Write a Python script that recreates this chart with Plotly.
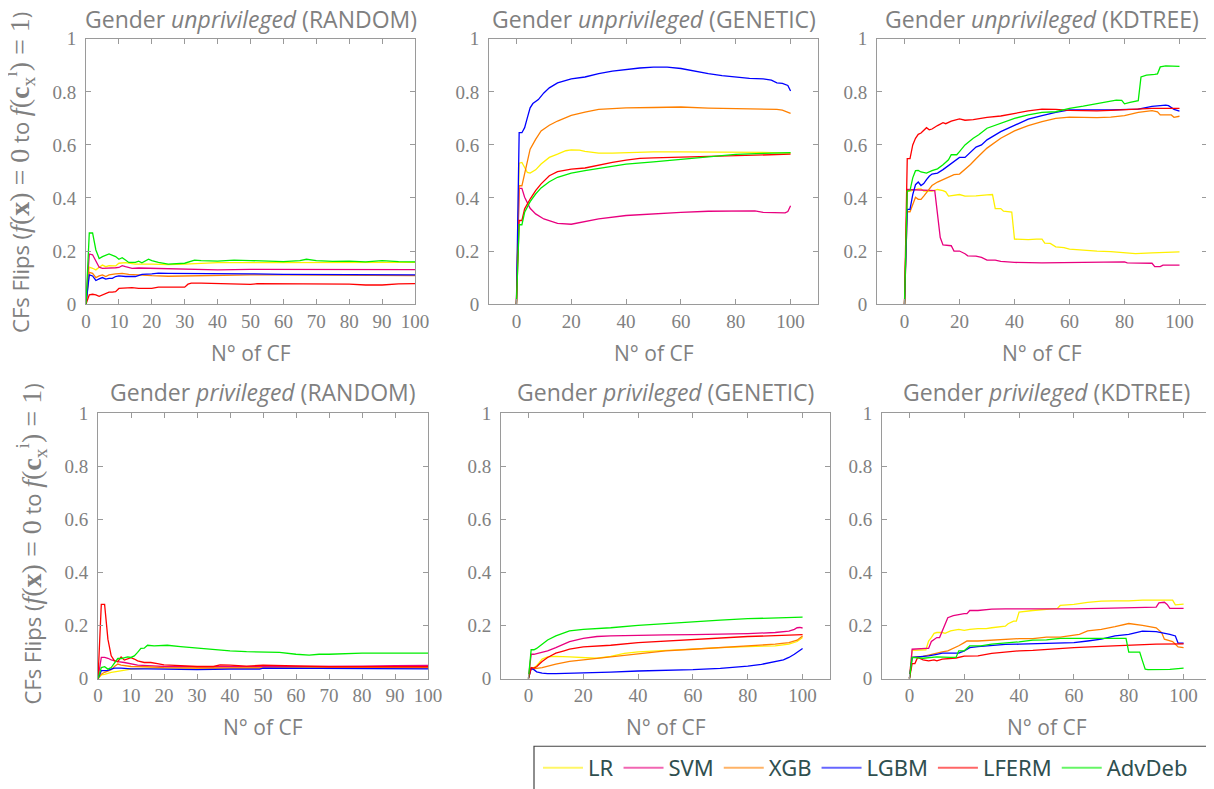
import plotly.graph_objects as go

# ---------------- data ----------------
MODELS = ["LR", "SVM", "XGB", "LGBM", "LFERM", "AdvDeb"]
COLORS = ["#fff000", "#e8007f", "#ff8000", "#0000ff", "#ff0000", "#00ee00"]

# Random - unprivileged
RU_LR_X = [0,1,2,3,4,5,6,7,9,10,12,15,20,25,30,35,40,50,60,70,80,90,100]
RU_LR_Y = [0,0.139,0.135,0.129,0.139,0.147,0.141,0.145,0.144,0.154,0.156,0.151,0.151,0.149,0.151,0.154,0.156,0.156,0.156,0.156,0.155,0.156,0.157]
RU_SVM_X = [0,1,2,3,4,5,7,9,10,11,12,14,16,20,25,30,35,40,50,60,70,80,90,100]
RU_SVM_Y = [0,0.189,0.186,0.16,0.139,0.135,0.135,0.137,0.138,0.145,0.141,0.135,0.136,0.135,0.131,0.131,0.131,0.129,0.131,0.131,0.131,0.131,0.131,0.13]
RU_XGB_X = [0,1,2,3,4,5,6,7,9,11,13,15,20,25,30,40,50,60,70,80,90,100]
RU_XGB_Y = [0,0.12,0.116,0.1,0.106,0.11,0.104,0.11,0.114,0.116,0.112,0.11,0.107,0.105,0.106,0.11,0.11,0.11,0.109,0.107,0.107,0.107]
RU_LGBM_X = [0,1,2,3,4,5,6,7,8,9,10,12,15,17,20,22,25,30,35,40,50,60,70,80,90,100]
RU_LGBM_Y = [0,0.11,0.106,0.089,0.095,0.1,0.094,0.097,0.097,0.104,0.106,0.104,0.104,0.112,0.114,0.117,0.116,0.116,0.116,0.114,0.114,0.112,0.112,0.111,0.111,0.11]
RU_LFERM_X = [0,1,2,3,4,5,6,7,8,9,10,12,14,16,18,20,22,25,28,30,31,32,35,40,45,48,50,52,55,60,70,80,85,90,95,100]
RU_LFERM_Y = [0,0.035,0.037,0.035,0.029,0.035,0.039,0.045,0.045,0.047,0.059,0.06,0.062,0.059,0.059,0.059,0.064,0.064,0.062,0.064,0.075,0.079,0.079,0.077,0.077,0.075,0.074,0.077,0.077,0.077,0.076,0.075,0.072,0.072,0.076,0.077]
RU_ADV_X = [0,1,2,3,4,5,7,8,9,10,11,12,13,15,16,17,19,20,22,25,28,30,33,35,40,45,50,55,60,65,67,70,75,80,85,90,95,100]
RU_ADV_Y = [0,0.268,0.268,0.204,0.172,0.179,0.189,0.184,0.179,0.169,0.175,0.166,0.157,0.157,0.162,0.156,0.169,0.164,0.157,0.151,0.153,0.154,0.166,0.164,0.162,0.166,0.164,0.162,0.16,0.164,0.169,0.164,0.161,0.162,0.159,0.164,0.16,0.159]

# Genetic - unprivileged
GU_LR_X = [0,1,2,3,4,5,7,9,12,15,18,20,23,25,30,35,40,50,60,70,80,90,100]
GU_LR_Y = [0,0.531,0.534,0.515,0.496,0.494,0.506,0.528,0.553,0.565,0.578,0.581,0.58,0.576,0.569,0.569,0.571,0.574,0.574,0.574,0.574,0.572,0.569]
GU_SVM_X = [0,1,2,3,5,7,10,13,15,20,25,30,40,50,60,70,80,87,90,95,98,99,100]
GU_SVM_Y = [0,0.436,0.436,0.403,0.361,0.34,0.321,0.309,0.304,0.301,0.311,0.321,0.334,0.341,0.346,0.35,0.351,0.351,0.346,0.346,0.344,0.349,0.371]
GU_XGB_X = [0,1,2,3,4,5,7,9,12,15,20,25,30,40,50,57,60,70,80,90,95,97,100]
GU_XGB_Y = [0,0.446,0.446,0.496,0.546,0.584,0.621,0.653,0.674,0.69,0.711,0.724,0.734,0.74,0.741,0.744,0.743,0.739,0.738,0.736,0.734,0.731,0.719]
GU_LGBM_X = [0,1,2,3,4,5,6,8,10,12,15,20,25,30,35,40,45,50,55,60,65,70,75,80,85,90,93,95,97,99,100]
GU_LGBM_Y = [0,0.646,0.646,0.665,0.703,0.74,0.756,0.771,0.796,0.815,0.834,0.849,0.856,0.869,0.878,0.884,0.89,0.893,0.893,0.888,0.878,0.869,0.861,0.856,0.851,0.849,0.844,0.834,0.832,0.824,0.803]
GU_LFERM_X = [0,1,2,3,5,7,9,12,15,20,25,30,35,40,45,50,60,70,80,90,100]
GU_LFERM_Y = [0,0.315,0.315,0.359,0.396,0.428,0.453,0.484,0.499,0.509,0.513,0.524,0.534,0.543,0.549,0.551,0.554,0.555,0.559,0.561,0.565]
GU_ADV_X = [0,1,2,3,5,7,9,12,15,20,25,30,40,50,60,70,80,90,100]
GU_ADV_Y = [0,0.299,0.299,0.346,0.386,0.415,0.438,0.461,0.478,0.494,0.503,0.511,0.528,0.536,0.546,0.556,0.564,0.568,0.571]

# KDTree - unprivileged
KU_LR_X = [0,1,2,4,5,6,7,10,12,14,15,16,18,20,22,26,30,32,33,35,36,39,40,45,48,50,51,53,55,58,60,65,70,75,84,90,95,100]
KU_LR_Y = [0,0.426,0.426,0.432,0.434,0.434,0.426,0.426,0.432,0.428,0.423,0.407,0.41,0.413,0.407,0.408,0.412,0.413,0.36,0.36,0.35,0.347,0.245,0.243,0.245,0.245,0.23,0.229,0.216,0.213,0.207,0.203,0.2,0.198,0.19,0.193,0.195,0.197]
KU_SVM_X = [0,1,11,12,13,14,17,18,20,22,23,26,28,30,33,35,40,50,60,70,80,81,90,91,93,94,100]
KU_SVM_Y = [0,0.432,0.428,0.338,0.251,0.223,0.22,0.2,0.2,0.19,0.182,0.181,0.176,0.166,0.166,0.161,0.157,0.155,0.157,0.159,0.159,0.155,0.154,0.141,0.141,0.147,0.147]
KU_XGB_X = [0,1,2,3,4,5,6,7,8,9,10,12,14,16,18,20,22,24,26,28,30,35,40,45,50,55,60,65,70,75,80,85,88,90,92,93,95,97,98,100]
KU_XGB_Y = [0,0.348,0.348,0.376,0.403,0.395,0.395,0.407,0.42,0.436,0.447,0.46,0.469,0.478,0.488,0.49,0.507,0.526,0.548,0.567,0.588,0.625,0.653,0.673,0.688,0.70,0.705,0.704,0.703,0.705,0.71,0.723,0.728,0.729,0.725,0.713,0.713,0.713,0.704,0.708]
KU_LGBM_X = [0,1,2,3,4,5,6,7,8,9,10,12,14,16,18,20,22,24,26,28,30,35,40,45,50,55,60,65,70,75,80,85,90,94,95,96,98,100]
KU_LGBM_Y = [0,0.357,0.357,0.413,0.45,0.46,0.447,0.454,0.469,0.482,0.49,0.494,0.507,0.523,0.538,0.553,0.553,0.573,0.592,0.60,0.619,0.65,0.675,0.697,0.71,0.723,0.732,0.733,0.732,0.732,0.733,0.735,0.745,0.749,0.75,0.748,0.734,0.727]
KU_LFERM_X = [0,1,2,3,4,5,6,7,8,9,10,12,14,15,17,20,22,25,30,35,40,45,50,55,60,65,70,75,80,85,90,95,100]
KU_LFERM_Y = [0,0.548,0.548,0.60,0.625,0.64,0.645,0.657,0.665,0.657,0.66,0.673,0.684,0.68,0.69,0.698,0.693,0.695,0.704,0.709,0.719,0.728,0.735,0.734,0.73,0.728,0.728,0.73,0.733,0.735,0.738,0.738,0.738]
KU_ADV_X = [0,1,2,3,4,5,6,8,10,12,14,16,17,19,20,22,25,27,30,35,40,45,50,55,60,65,70,75,77,79,80,82,85,86,88,91,92,93,95,100]
KU_ADV_Y = [0,0.426,0.428,0.476,0.503,0.504,0.498,0.494,0.503,0.51,0.525,0.544,0.563,0.563,0.575,0.60,0.625,0.638,0.663,0.682,0.70,0.713,0.723,0.725,0.738,0.746,0.755,0.763,0.769,0.768,0.755,0.76,0.767,0.856,0.863,0.866,0.868,0.894,0.898,0.896]

# Random - privileged
RP_LR_X = [0,1,2,3,4,5,7,9,10,15,20,30,50,100]
RP_LR_Y = [0,0.014,0.016,0.021,0.024,0.026,0.03,0.034,0.036,0.04,0.04,0.041,0.041,0.041]
RP_SVM_X = [0,1,2,3,4,5,6,8,10,12,15,20,30,40,50,60,70,80,90,100]
RP_SVM_Y = [0,0.08,0.08,0.077,0.071,0.067,0.064,0.061,0.056,0.051,0.049,0.046,0.045,0.045,0.046,0.046,0.046,0.047,0.049,0.05]
RP_XGB_X = [0,1,2,3,4,5,6,7,8,10,15,20,30,40,50,60,70,80,100]
RP_XGB_Y = [0,0.017,0.024,0.03,0.034,0.046,0.055,0.051,0.049,0.046,0.045,0.042,0.04,0.04,0.041,0.041,0.041,0.041,0.041]
RP_LGBM_X = [0,1,2,3,4,5,7,10,15,20,25,30,40,49,50,60,70,80,90,100]
RP_LGBM_Y = [0,0.03,0.03,0.031,0.036,0.04,0.04,0.037,0.037,0.036,0.034,0.034,0.036,0.036,0.04,0.039,0.039,0.039,0.037,0.037]
RP_LFERM_X = [0,1,2,3,4,5,6,7,8,9,10,11,12,14,16,18,20,25,30,35,37,40,45,50,55,60,70,80,90,100]
RP_LFERM_Y = [0,0.28,0.28,0.149,0.086,0.067,0.064,0.082,0.07,0.076,0.079,0.074,0.067,0.061,0.061,0.057,0.052,0.049,0.046,0.046,0.052,0.051,0.047,0.051,0.049,0.047,0.045,0.045,0.045,0.045]
RP_ADV_X = [0,1,2,3,4,5,6,7,8,9,10,11,12,13,14,15,17,20,21,25,30,35,40,45,50,55,60,64,67,70,80,90,100]
RP_ADV_Y = [0,0.042,0.045,0.036,0.042,0.061,0.076,0.076,0.08,0.082,0.08,0.086,0.099,0.114,0.115,0.126,0.124,0.124,0.126,0.121,0.115,0.111,0.105,0.102,0.101,0.099,0.092,0.089,0.092,0.092,0.096,0.095,0.096]

# Genetic - privileged
GP_LR_X = [0,1,2,3,4,5,7,10,15,20,25,30,35,40,45,50,60,70,80,90,95,98,100]
GP_LR_Y = [0,0.042,0.042,0.049,0.061,0.074,0.082,0.084,0.082,0.08,0.077,0.084,0.095,0.101,0.104,0.107,0.111,0.117,0.121,0.124,0.13,0.14,0.155]
GP_SVM_X = [0,1,2,3,5,7,10,13,15,20,25,30,40,50,60,70,80,90,95,97,98,99,100]
GP_SVM_Y = [0,0.092,0.092,0.095,0.099,0.105,0.117,0.13,0.14,0.152,0.159,0.161,0.164,0.165,0.166,0.167,0.17,0.174,0.179,0.186,0.192,0.193,0.191]
GP_XGB_X = [0,1,3,5,10,15,20,30,40,50,60,70,80,90,95,98,100]
GP_XGB_Y = [0,0.036,0.039,0.042,0.055,0.065,0.071,0.082,0.095,0.105,0.111,0.117,0.124,0.13,0.136,0.145,0.161]
GP_LGBM_X = [0,1,2,3,5,7,10,20,30,40,50,60,70,80,85,90,93,95,97,100]
GP_LGBM_Y = [0,0.039,0.034,0.026,0.021,0.019,0.019,0.021,0.025,0.029,0.031,0.034,0.039,0.047,0.054,0.064,0.071,0.08,0.092,0.114]
GP_LFERM_X = [0,1,2,3,4,5,7,10,13,15,20,30,40,50,60,70,80,90,100]
GP_LFERM_Y = [0,0.042,0.04,0.045,0.055,0.065,0.08,0.096,0.105,0.111,0.12,0.126,0.136,0.142,0.149,0.154,0.159,0.162,0.166]
GP_ADV_X = [0,1,2,3,5,7,10,13,15,20,30,40,50,60,70,80,90,100]
GP_ADV_Y = [0,0.109,0.109,0.114,0.13,0.146,0.161,0.174,0.18,0.186,0.192,0.201,0.208,0.215,0.221,0.226,0.228,0.232]

# KDTree - privileged
KP_LR_X = [0,1,6,7,8,9,10,12,13,15,17,18,20,22,25,28,30,33,35,36,38,39,40,45,50,54,55,60,65,70,75,80,85,90,94,96,97,100]
KP_LR_Y = [0,0.107,0.109,0.142,0.155,0.171,0.174,0.174,0.171,0.18,0.184,0.186,0.182,0.186,0.189,0.189,0.192,0.196,0.198,0.207,0.217,0.217,0.251,0.257,0.261,0.265,0.276,0.28,0.288,0.292,0.293,0.293,0.296,0.296,0.298,0.296,0.278,0.281]
KP_SVM_X = [0,1,6,7,8,10,11,12,13,14,16,18,20,21,22,25,28,30,35,40,45,50,60,70,80,90,91,93,94,95,100]
KP_SVM_Y = [0,0.111,0.114,0.114,0.14,0.155,0.155,0.18,0.211,0.23,0.238,0.242,0.245,0.245,0.257,0.257,0.26,0.262,0.263,0.263,0.261,0.261,0.263,0.265,0.267,0.27,0.286,0.288,0.28,0.265,0.265]
KP_XGB_X = [0,1,5,7,9,12,14,16,18,20,21,25,30,35,40,45,48,50,55,60,62,65,70,75,78,80,85,90,92,93,96,98,100]
KP_XGB_Y = [0,0.08,0.084,0.089,0.096,0.101,0.105,0.114,0.124,0.136,0.142,0.142,0.145,0.146,0.151,0.151,0.155,0.157,0.157,0.164,0.167,0.18,0.186,0.196,0.202,0.208,0.201,0.192,0.174,0.149,0.14,0.12,0.117]
KP_LGBM_X = [0,1,5,7,10,12,16,18,20,22,25,30,35,40,45,50,55,60,65,70,75,80,85,90,95,97,98,100]
KP_LGBM_Y = [0,0.08,0.084,0.086,0.092,0.096,0.096,0.096,0.105,0.117,0.121,0.126,0.129,0.13,0.132,0.134,0.134,0.136,0.142,0.149,0.161,0.167,0.179,0.177,0.167,0.161,0.134,0.134]
KP_LFERM_X = [0,1,2,3,5,7,9,10,12,15,17,20,25,30,35,40,45,50,60,70,80,90,100]
KP_LFERM_Y = [0,0.057,0.057,0.08,0.071,0.067,0.071,0.067,0.074,0.077,0.078,0.085,0.086,0.095,0.101,0.105,0.107,0.111,0.117,0.122,0.127,0.13,0.131]
KP_ADV_X = [0,1,5,10,15,17,18,20,22,26,30,35,40,45,50,55,60,65,70,75,78,79,80,84,85,86,87,90,95,100]
KP_ADV_Y = [0,0.08,0.077,0.082,0.08,0.08,0.105,0.105,0.124,0.124,0.13,0.134,0.139,0.145,0.146,0.152,0.152,0.152,0.152,0.154,0.154,0.152,0.1,0.1,0.067,0.036,0.034,0.034,0.035,0.04]

Y_TICKS = [0, 0.2, 0.4, 0.6, 0.8, 1]
Y_TICKTEXT = ["0", "0.2", "0.4", "0.6", "0.8", "1"]

SERIES = {
    "RU": [(RU_LR_X, RU_LR_Y), (RU_SVM_X, RU_SVM_Y), (RU_XGB_X, RU_XGB_Y), (RU_LGBM_X, RU_LGBM_Y), (RU_LFERM_X, RU_LFERM_Y), (RU_ADV_X, RU_ADV_Y)],
    "GU": [(GU_LR_X, GU_LR_Y), (GU_SVM_X, GU_SVM_Y), (GU_XGB_X, GU_XGB_Y), (GU_LGBM_X, GU_LGBM_Y), (GU_LFERM_X, GU_LFERM_Y), (GU_ADV_X, GU_ADV_Y)],
    "KU": [(KU_LR_X, KU_LR_Y), (KU_SVM_X, KU_SVM_Y), (KU_XGB_X, KU_XGB_Y), (KU_LGBM_X, KU_LGBM_Y), (KU_LFERM_X, KU_LFERM_Y), (KU_ADV_X, KU_ADV_Y)],
    "RP": [(RP_LR_X, RP_LR_Y), (RP_SVM_X, RP_SVM_Y), (RP_XGB_X, RP_XGB_Y), (RP_LGBM_X, RP_LGBM_Y), (RP_LFERM_X, RP_LFERM_Y), (RP_ADV_X, RP_ADV_Y)],
    "GP": [(GP_LR_X, GP_LR_Y), (GP_SVM_X, GP_SVM_Y), (GP_XGB_X, GP_XGB_Y), (GP_LGBM_X, GP_LGBM_Y), (GP_LFERM_X, GP_LFERM_Y), (GP_ADV_X, GP_ADV_Y)],
    "KP": [(KP_LR_X, KP_LR_Y), (KP_SVM_X, KP_SVM_Y), (KP_XGB_X, KP_XGB_Y), (KP_LGBM_X, KP_LGBM_Y), (KP_LFERM_X, KP_LFERM_Y), (KP_ADV_X, KP_ADV_Y)],
}

# ---------------- layout ----------------
# The page body has an 8px margin, so the figure is drawn 8px in from the
# window's top-left corner; positions below are window pixels.
OFF = 8
PAGE_W, PAGE_H = 1214, 789
W, H = PAGE_W - OFF, PAGE_H - OFF


def fx(px):
    return (px - OFF) / W


def fy(py):
    return 1 - (py - OFF) / H


GREY = "#808080"
FRAME = "#9a9a9a"
SANS = "Open Sans"
SERIF = "Liberation Serif, Times New Roman, serif"

PANELS = [
    dict(key="RU", title="Gender <i>unprivileged</i> (RANDOM)", px=(86, 415), py=(39, 306), rng=[0, 100], dt=10),
    dict(key="GU", title="Gender <i>unprivileged</i> (GENETIC)", px=(489, 818), py=(39, 306), rng=[-10, 110], dt=20),
    dict(key="KU", title="Gender <i>unprivileged</i> (KDTREE)", px=(877, 1207), py=(39, 306), rng=[-10, 110], dt=20),
    dict(key="RP", title="Gender <i>privileged</i> (RANDOM)", px=(98, 428), py=(416, 683), rng=[0, 100], dt=10),
    dict(key="GP", title="Gender <i>privileged</i> (GENETIC)", px=(501, 830), py=(416, 683), rng=[-10, 110], dt=20),
    dict(key="KP", title="Gender <i>privileged</i> (KDTREE)", px=(882, 1211), py=(416, 683), rng=[-10, 110], dt=20),
]

fig = go.Figure()
annotations = []
layout = {}

for i, p in enumerate(PANELS):
    n = i + 1
    xa = "xaxis" if n == 1 else f"xaxis{n}"
    ya = "yaxis" if n == 1 else f"yaxis{n}"
    xr = "x" if n == 1 else f"x{n}"
    yr = "y" if n == 1 else f"y{n}"
    dx = [fx(p["px"][0]), fx(p["px"][1])]
    dy = [fy(p["py"][1]), fy(p["py"][0])]
    layout[xa] = dict(domain=dx, anchor=yr, range=p["rng"], tickmode="array",
                      tickvals=list(range(0, 101, p["dt"])), automargin=False,
                      showline=True, mirror="ticks", linecolor=FRAME, linewidth=1,
                      ticks="inside", ticklen=5, tickcolor=FRAME, showgrid=False, zeroline=False,
                      tickfont=dict(family=SERIF, size=19, color=GREY), ticklabelstandoff=0)
    layout[ya] = dict(domain=dy, anchor=xr, range=[0, 1], tickmode="array",
                      tickvals=Y_TICKS, ticktext=Y_TICKTEXT, automargin=False,
                      showline=True, mirror="ticks", linecolor=FRAME, linewidth=1,
                      ticks="inside", ticklen=5, tickcolor=FRAME, showgrid=False, zeroline=False,
                      tickfont=dict(family=SERIF, size=19, color=GREY), ticklabelstandoff=5)
    for (sx, sy), name, col in zip(SERIES[p["key"]], MODELS, COLORS):
        fig.add_trace(go.Scatter(x=sx, y=sy, mode="lines", name=name, xaxis=xr, yaxis=yr,
                                 line=dict(color=col, width=1.3), showlegend=False))
    cx = (dx[0] + dx[1]) / 2
    ty = 19 if n <= 3 else 394
    annotations.append(dict(text=p["title"], x=cx, y=fy(ty), xref="paper", yref="paper",
                            xanchor="center", yanchor="middle", showarrow=False,
                            font=dict(family=SANS, size=23, color=GREY)))
    xty = 355 if n <= 3 else 732
    annotations.append(dict(text="N° of CF", x=cx, y=fy(xty), xref="paper", yref="paper",
                            xanchor="center", yanchor="middle", showarrow=False,
                            font=dict(family=SANS, size=21, color=GREY)))

MATH = "font-family:Liberation Serif;font-size:28px"
YLABEL = ("CFs Flips (<span style=\"" + MATH + "\"><i>f</i>(<b>x</b>) = 0</span> to "
          "<span style=\"" + MATH + "\"><i>f</i>(<b>c</b><sub>x</sub><sup>i</sup>) = 1</span>)")
for lx, ly in [(20, 174), (32, 548)]:
    annotations.append(dict(text=YLABEL, x=fx(lx), y=fy(ly), xref="paper", yref="paper",
                            xanchor="center", yanchor="middle", showarrow=False, textangle=-90,
                            font=dict(family=SANS, size=22, color=GREY)))

# legend-only entries (lighter, as in the reference legend box)
for name, col in zip(MODELS, COLORS):
    fig.add_trace(go.Scatter(x=[None], y=[None], mode="lines", name=name,
                             line=dict(color=col, width=2), opacity=0.6, showlegend=True))

# legend frame
shapes = [dict(type="rect", xref="paper", yref="paper", x0=fx(534), x1=fx(1213),
               y0=fy(800), y1=fy(751), line=dict(color="#444444", width=1.2),
               fillcolor="rgba(0,0,0,0)", layer="above")]

fig.update_layout(
    width=W, height=H, autosize=False,
    margin=dict(l=0, r=0, t=0, b=0, pad=0),
    paper_bgcolor="white", plot_bgcolor="white",
    annotations=annotations, shapes=shapes,
    legend=dict(orientation="h", x=fx(538), y=fy(752), xanchor="left", yanchor="top",
                borderwidth=0, bgcolor="rgba(0,0,0,0)",
                font=dict(family="Noto Sans", size=22, color="#2f4f4f"),
                itemwidth=40, tracegroupgap=0),
    **layout,
)

fig.write_html("out.html")
